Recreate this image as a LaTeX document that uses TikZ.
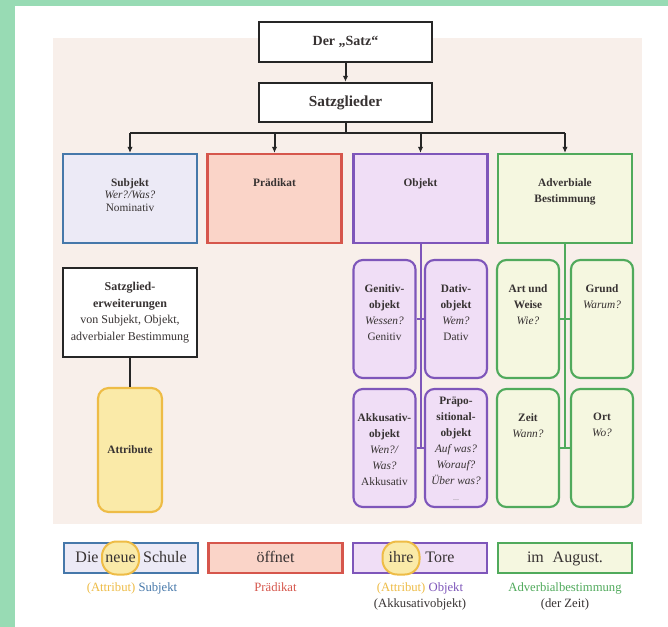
\documentclass[tikz,border=0pt]{standalone}
\usepackage{fontspec}
\setmainfont{Liberation Serif}
\usetikzlibrary{arrows.meta}

\definecolor{frameGreen}{RGB}{152,219,180}
\definecolor{panelBeige}{RGB}{248,239,234}
\definecolor{subjBlue}{RGB}{70,120,170}
\definecolor{subjFill}{RGB}{236,234,246}
\definecolor{praedRed}{RGB}{214,86,76}
\definecolor{praedFill}{RGB}{250,212,200}
\definecolor{objPurple}{RGB}{126,86,186}
\definecolor{objFill}{RGB}{240,222,246}
\definecolor{advGreen}{RGB}{80,170,92}
\definecolor{advFill}{RGB}{245,247,224}
\definecolor{attrYellow}{RGB}{238,188,70}
\definecolor{attrFill}{RGB}{250,234,168}
\definecolor{inkGray}{RGB}{55,50,50}

\begin{document}
\begin{tikzpicture}[x=0.75pt,y=0.75pt,yscale=-1,xscale=1,
  headbox/.style={draw=black!85, fill=white, line width=1.5pt, minimum width=129.75pt, minimum height=29.5pt, inner sep=0pt, text=inkGray},
  topbox/.style={line width=1.6pt, minimum width=100.5pt, minimum height=66.75pt, inner sep=0pt},
  subbox/.style={line width=1.6pt, rounded corners=7pt, minimum width=46.5pt, minimum height=88.5pt, inner sep=0pt},
  txt/.style={font=\fontsize{8.5}{12}\selectfont, align=center, inner sep=0pt, anchor=north, text=inkGray},
  conn/.style={draw=black!85, line width=1.5pt},
  arr/.style={conn, -{Latex[length=4.5pt,width=4pt]}},
  botbox/.style={line width=1.6pt, minimum width=100.5pt, minimum height=22.5pt, inner sep=0pt, font=\fontsize{12}{14}\selectfont, text=inkGray, text height=8.5pt, text depth=2.5pt},
  word/.style={font=\fontsize{12}{14}\selectfont, inner sep=0pt, text=inkGray, text height=8.5pt, text depth=2.5pt},
  hilite/.style={word, draw=attrYellow, fill=attrFill, line width=1.5pt, rounded corners=11pt, minimum width=27.75pt, minimum height=24.75pt},
  lbl/.style={font=\fontsize{9.5}{12}\selectfont, align=center, inner sep=0pt, anchor=north, text=inkGray}]

%Background
\fill[frameGreen] (0,0) rectangle (668,627);
\fill[white] (15,6) rectangle (668,627);
\fill[panelBeige] (53,38) rectangle (642,524);
\useasboundingbox (0,0) rectangle (668,627);

%Shape: Rectangle
\node[headbox, font=\fontsize{10.5}{12}\selectfont\bfseries] (satz) at (345.5,42) {Der „Satz“};
\node[headbox, font=\fontsize{11.5}{13}\selectfont\bfseries] (glieder) at (345.5,102.5) {Satzglieder};

%Shape: Rectangle
\node[topbox, draw=subjBlue, fill=subjFill] (subj) at (130,198.5) {};
\node[topbox, draw=praedRed, fill=praedFill] (praed) at (274.5,198.5) {};
\node[topbox, draw=objPurple, fill=objFill] (obj) at (420.5,198.5) {};
\node[topbox, draw=advGreen, fill=advFill] (adv) at (565,198.5) {};
\node[txt, font=\fontsize{8.5}{9.5}\selectfont] (subjT) at (130,178) {\textbf{Subjekt}\\\textit{Wer?/Was?}\\Nominativ};
\node[txt] (praedT) at (274.5,178) {\textbf{Prädikat}};
\node[txt] (objT) at (420.5,178) {\textbf{Objekt}};
\node[txt, font=\fontsize{8.5}{12.5}\selectfont] (advT) at (565,178) {\textbf{Adverbiale}\\\textbf{Bestimmung}};

%Straight Lines
\coordinate (bar) at (345.5,133);
\draw[arr] (satz) -- (glieder);
\draw[conn] (glieder) -- (bar);
\draw[conn] (subj.north |- bar) -- (adv.north |- bar);
\foreach \n in {subj,praed,obj,adv}
  \draw[arr] (\n.north |- bar) -- (\n);

%Shape: Rounded Rect (Objekt)
\node[subbox, draw=objPurple, fill=objFill] (gen) at (384.5,319) {};
\node[subbox, draw=objPurple, fill=objFill] (dat) at (456,319) {};
\node[subbox, draw=objPurple, fill=objFill] (akk) at (384.5,448) {};
\node[subbox, draw=objPurple, fill=objFill] (praep) at (456,448) {};
\draw[conn, draw=objPurple] (obj) -- (obj |- akk.east);
\draw[conn, draw=objPurple] (gen) -- (dat);
\draw[conn, draw=objPurple] (akk) -- (praep);
\node[txt] (genT) at (384.5,284) {\textbf{Genitiv-}\\\textbf{objekt}\\\textit{Wessen?}\\Genitiv};
\node[txt] (datT) at (456,284) {\textbf{Dativ-}\\\textbf{objekt}\\\textit{Wem?}\\Dativ};
\node[txt] (akkT) at (384.5,413) {\textbf{Akkusativ-}\\\textbf{objekt}\\\textit{Wen?/}\\\textit{Was?}\\Akkusativ};
\node[txt] (praepT) at (456,397) {\textbf{Präpo-}\\\textbf{sitional-}\\\textbf{objekt}\\\textit{Auf was?}\\\textit{Worauf?}\\\textit{Über was?}\\{\color{gray}\fontsize{6}{6}\selectfont ...}};

%Shape: Rounded Rect (Adverbiale Bestimmung)
\node[subbox, draw=advGreen, fill=advFill] (art) at (528,319) {};
\node[subbox, draw=advGreen, fill=advFill] (grund) at (602,319) {};
\node[subbox, draw=advGreen, fill=advFill] (zeit) at (528,448) {};
\node[subbox, draw=advGreen, fill=advFill] (ort) at (602,448) {};
\draw[conn, draw=advGreen] (adv) -- (adv |- zeit.east);
\draw[conn, draw=advGreen] (art) -- (grund);
\draw[conn, draw=advGreen] (zeit) -- (ort);
\node[txt] (artT) at (528,284) {\textbf{Art und}\\\textbf{Weise}\\\textit{Wie?}};
\node[txt] (grundT) at (602,284) {\textbf{Grund}\\\textit{Warum?}};
\node[txt] (zeitT) at (528,413) {\textbf{Zeit}\\\textit{Wann?}};
\node[txt] (ortT) at (602,413) {\textbf{Ort}\\\textit{Wo?}};

%Shape: Rectangle (Satzgliederweiterungen)
\node[draw=black!85, fill=white, line width=1.5pt, minimum width=100.5pt, minimum height=66.75pt, inner sep=0pt] (erw) at (130,312.5) {};
\node[txt, font=\fontsize{9}{12.5}\selectfont] (erwT) at (130,282) {\textbf{Satzglied-}\\\textbf{erweiterungen}\\von Subjekt, Objekt,\\adverbialer Bestimmung};
\node[draw=attrYellow, fill=attrFill, line width=1.6pt, rounded corners=8pt, minimum width=48pt, minimum height=93pt, inner sep=0pt, font=\fontsize{8.5}{10}\selectfont\bfseries, text=inkGray] (attr) at (130,450) {Attribute};
\draw[conn] (erw) -- (attr);

%Example sentence
\node[botbox, draw=subjBlue, fill=subjFill] (ex1) at (131,558) {};
\node[hilite] (neue) at (120.5,558) {neue};
\node[word] (die) at (87,558) {Die};
\node[word] (schule) at (165,558) {Schule};
\node[botbox, draw=praedRed, fill=praedFill] (ex2) at (275.5,558) {öffnet};
\node[botbox, draw=objPurple, fill=objFill] (ex3) at (420,558) {};
\node[hilite] (ihre) at (401,558) {ihre};
\node[word] (tore) at (440,558) {Tore};
\node[botbox, draw=advGreen, fill=advFill] (ex4) at (565,558) {im\hspace{0.55em}August.};

\node[lbl] (lab1) at (132,582) {\textcolor{attrYellow}{(Attribut)} \textcolor{subjBlue}{Subjekt}};
\node[lbl] (lab2) at (275.5,582) {\textcolor{praedRed}{Prädikat}};
\node[lbl] (lab3) at (420,582) {\textcolor{attrYellow}{(Attribut)} \textcolor{objPurple}{Objekt}\\(Akkusativobjekt)};
\node[lbl] (lab4) at (565,582) {\textcolor{advGreen}{Adverbialbestimmung}\\(der Zeit)};

\end{tikzpicture}
\end{document}
